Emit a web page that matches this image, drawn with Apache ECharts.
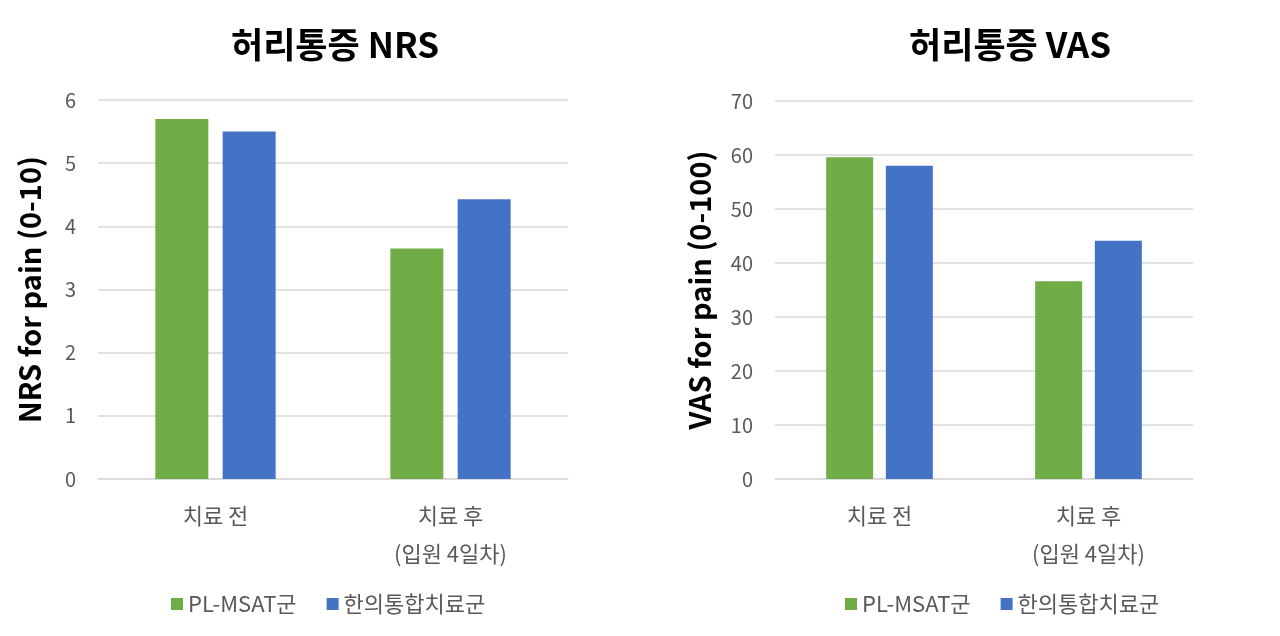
<!DOCTYPE html>
<html>
<head>
<meta charset="utf-8">
<script src="https://cdn.jsdelivr.net/npm/echarts@6/dist/echarts.min.js"></script>
<style>
  html, body { margin: 0; padding: 0; background: #fff; }
  #main { width: 1280px; height: 636px; }
</style>
</head>
<body>
<div id="main"></div>
<script>
// 데이터
var categories = ['치료 전', '치료 후\n(입원 4일차)'];
var seriesNames = ['PL-MSAT군', '한의통합치료군'];
var nrsPlmsat = [5.7, 3.65];
var nrsKm = [5.5, 4.43];
var vasPlmsat = [59.6, 36.6];
var vasKm = [58.0, 44.1];

var green = '#70AD47';
var blue = '#4472C4';
var gray = '#595959';
var font = '"Noto Sans CJK KR", "Noto Sans", sans-serif';

function xAxisOf(idx) {
	return {
		type: 'category',
		gridIndex: idx,
		data: categories,
		axisTick: { show: false },
		axisLine: { lineStyle: { color: '#d9d9d9', width: 1.5 } },
		axisLabel: {
			color: gray,
			fontSize: 22,
			fontFamily: font,
			margin: 18,
			lineHeight: 38
		}
	};
}

function yAxisOf(idx, max, interval, name, gap) {
	return {
		type: 'value',
		gridIndex: idx,
		min: 0,
		max: max,
		interval: interval,
		name: name,
		nameLocation: 'middle',
		nameGap: gap,
		nameTextStyle: {
			color: '#000',
			fontSize: 29,
			fontWeight: 'bold',
			fontFamily: font
		},
		axisLabel: {
			color: gray,
			fontSize: 20,
			fontFamily: font,
			margin: 22
		},
		splitLine: { lineStyle: { color: '#d9d9d9', width: 1.5 } }
	};
}

function legendOf(start) {
	return {
		data: seriesNames,
		left: start,
		top: 588,
		icon: 'rect',
		itemWidth: 12,
		itemHeight: 12,
		itemGap: 30,
		textStyle: { color: gray, fontSize: 22, fontFamily: font }
	};
}

function barOf(name, color, data, idx, width) {
	return {
		name: name,
		type: 'bar',
		xAxisIndex: idx,
		yAxisIndex: idx,
		data: data,
		barWidth: width,
		barGap: '27%',
		itemStyle: { color: color }
	};
}

var chart = echarts.init(document.getElementById('main'));
var option = {
	animation: false,
	title: [
		{
			text: '허리통증 NRS',
			left: 330,
			top: 22,
			textAlign: 'center',
			textStyle: { color: '#000', fontSize: 35, fontWeight: 'bold', fontFamily: font }
		},
		{
			text: '허리통증 VAS',
			left: 1005,
			top: 22,
			textAlign: 'center',
			textStyle: { color: '#000', fontSize: 35, fontWeight: 'bold', fontFamily: font }
		}
	],
	legend: [legendOf(166), legendOf(840)],
	grid: [
		{ left: 98, right: 712, top: 100, bottom: 157 },
		{ left: 775, right: 87, top: 101, bottom: 157 }
	],
	xAxis: [xAxisOf(0), xAxisOf(1)],
	yAxis: [
		yAxisOf(0, 6, 1, 'NRS for pain (0-10)', 54),
		yAxisOf(1, 70, 10, 'VAS for pain (0-100)', 61)
	],
	series: [
		barOf(seriesNames[0], green, nrsPlmsat, 0, 53),
		barOf(seriesNames[1], blue, nrsKm, 0, 53),
		barOf(seriesNames[0], green, vasPlmsat, 1, 47),
		barOf(seriesNames[1], blue, vasKm, 1, 47)
	]
};
chart.setOption(option);
</script>
</body>
</html>
